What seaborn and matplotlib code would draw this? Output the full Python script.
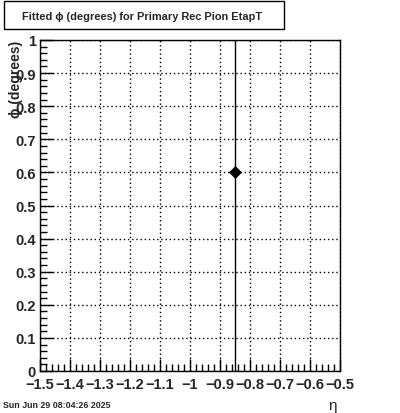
import matplotlib
matplotlib.use("Agg")
import matplotlib.pyplot as plt
import seaborn as sns
import pandas as pd
import numpy as np
from matplotlib.ticker import AutoMinorLocator, FuncFormatter
from matplotlib.patches import Rectangle

eta = [-0.85]
phi = [0.6]
phi_err = [1.0]
x_ticks = [-1.5, -1.4, -1.3, -1.2, -1.1, -1.0, -0.9, -0.8, -0.7, -0.6, -0.5]
y_ticks = [0, 0.1, 0.2, 0.3, 0.4, 0.5, 0.6, 0.7, 0.8, 0.9, 1.0]

sns.set_style("white")
plt.rcParams['font.family'] = ['Liberation Sans', 'DejaVu Sans']

fig = plt.figure(figsize=(4.0, 4.14), dpi=100)
W, H = 400, 414
ax = fig.add_axes([40 / W, 1 - 372 / H, 300 / W, (372 - 41) / H])

df = pd.DataFrame({"eta": eta, "phi": phi})
ax.errorbar(eta, phi, yerr=phi_err, fmt='none', ecolor='black', elinewidth=1.0, zorder=3)
sns.scatterplot(data=df, x="eta", y="phi", marker='D', color='black', s=38, edgecolor='black', ax=ax, zorder=4)

ax.set_xlim(-1.5, -0.5)
ax.set_ylim(0, 1)
ax.set_xticks(x_ticks)
ax.set_yticks(y_ticks)

def fmt(v, pos):
    s = f"{v:g}"
    if s == "-0":
        s = "0"
    return s.replace("-", "\u2212")

ax.xaxis.set_major_formatter(FuncFormatter(fmt))
ax.yaxis.set_major_formatter(FuncFormatter(fmt))
ax.xaxis.set_minor_locator(AutoMinorLocator(5))
ax.yaxis.set_minor_locator(AutoMinorLocator(5))
ax.tick_params(axis='both', which='major', direction='in', length=9, width=1, color='black',
               labelsize=10.5, pad=3)
ax.tick_params(axis='both', which='minor', direction='in', length=5, width=1, color='black')
ax.tick_params(axis='x', which='both', top=False, bottom=True)
ax.tick_params(axis='y', which='both', left=True, right=False)
for lab in ax.get_xticklabels() + ax.get_yticklabels():
    lab.set_fontweight('bold')
ax.tick_params(axis='x', pad=4)

ax.grid(True, which='major', color='black', linestyle=(0, (1, 2)), linewidth=1)
ax.grid(False, which='minor')
for s in ax.spines.values():
    s.set_color('black')
    s.set_linewidth(1)

ax.set_xlabel("")
ax.set_ylabel("")

fig.text(16 / W, 1 - 41 / H, "\u03d5 (degrees)", rotation=90, ha='center', va='top',
         fontsize=10, fontweight='bold')
fig.text(333 / W, 1 - 406 / H, "\u03b7", ha='center', va='center', fontsize=11)
fig.text(3 / W, 1 - 406 / H, "Sun Jun 29 08:04:26 2025", ha='left', va='center',
         fontsize=6.4, fontweight='bold')

fig.patches.append(Rectangle((4 / W, 1 - 30 / H), 280 / W, 28 / H, transform=fig.transFigure,
                             fill=False, edgecolor='black', linewidth=1))
fig.text(142 / W, 1 - 17 / H, "Fitted \u03d5 (degrees) for Primary Rec Pion EtapT", ha='center',
         va='center', fontsize=7.9, fontweight='bold')

fig.savefig("out.png", dpi=100)
